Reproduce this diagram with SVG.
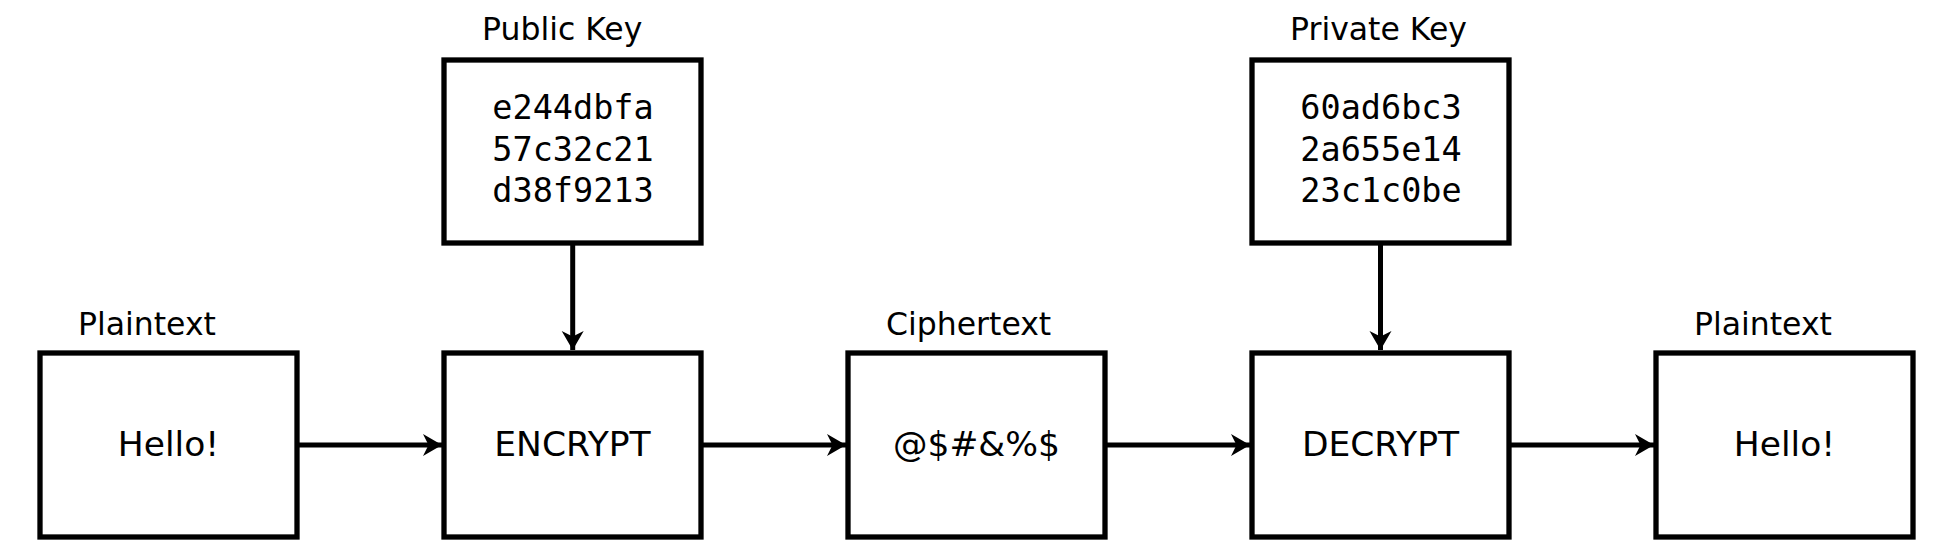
<svg xmlns="http://www.w3.org/2000/svg" width="1950" height="559" viewBox="0 0 1950 559">
<defs>
<style>
.box{fill:#fff;stroke:#000;stroke-width:5.3}
.lbl{font-family:"DejaVu Sans",sans-serif;font-size:31.5px;fill:#000}
.main{font-family:"DejaVu Sans",sans-serif;font-size:34.5px;fill:#000;text-anchor:middle}
.hex{font-family:"DejaVu Sans Mono",monospace;font-size:33.5px;fill:#000;text-anchor:middle}
.conn{stroke:#000;stroke-width:5;fill:none}
</style>
<marker id="ah" markerUnits="userSpaceOnUse" markerWidth="24" markerHeight="24" viewBox="0 0 24 24" refX="20" refY="12" orient="auto">
<path d="M20,12 L1,1 L6.5,12 L1,23 Z" fill="#000"/>
</marker>
</defs>
<rect width="1950" height="559" fill="#fff"/>
<g id="connectors">
<line class="conn" x1="299" y1="445" x2="442" y2="445" marker-end="url(#ah)"/>
<line class="conn" x1="703" y1="445" x2="846" y2="445" marker-end="url(#ah)"/>
<line class="conn" x1="1107" y1="445" x2="1250" y2="445" marker-end="url(#ah)"/>
<line class="conn" x1="1511" y1="445" x2="1654" y2="445" marker-end="url(#ah)"/>
<line class="conn" x1="572.7" y1="245" x2="572.7" y2="350" marker-end="url(#ah)"/>
<line class="conn" x1="1380.5" y1="245" x2="1380.5" y2="350" marker-end="url(#ah)"/>
</g>
<g id="plaintext-in">
<text class="lbl" x="78" y="335">Plaintext</text>
<rect class="box" x="40" y="353" width="257" height="184"/>
<text class="main" x="168.5" y="456">Hello!</text>
</g>
<g id="public-key">
<text class="lbl" x="482" y="40">Public Key</text>
<rect class="box" x="444" y="60" width="257" height="183"/>
<text class="hex" x="573" y="119">e244dbfa</text>
<text class="hex" x="573" y="161">57c32c21</text>
<text class="hex" x="573" y="202">d38f9213</text>
</g>
<g id="encrypt">
<rect class="box" x="444" y="353" width="257" height="184"/>
<text class="main" x="572.5" y="456">ENCRYPT</text>
</g>
<g id="ciphertext">
<text class="lbl" x="886" y="335">Ciphertext</text>
<rect class="box" x="848" y="353" width="257" height="184"/>
<text class="main" x="976.5" y="456">@$#&amp;%$</text>
</g>
<g id="private-key">
<text class="lbl" x="1290" y="40">Private Key</text>
<rect class="box" x="1252" y="60" width="257" height="183"/>
<text class="hex" x="1381" y="119">60ad6bc3</text>
<text class="hex" x="1381" y="161">2a655e14</text>
<text class="hex" x="1381" y="202">23c1c0be</text>
</g>
<g id="decrypt">
<rect class="box" x="1252" y="353" width="257" height="184"/>
<text class="main" x="1380.5" y="456">DECRYPT</text>
</g>
<g id="plaintext-out">
<text class="lbl" x="1694" y="335">Plaintext</text>
<rect class="box" x="1656" y="353" width="257" height="184"/>
<text class="main" x="1784.5" y="456">Hello!</text>
</g>
</svg>
